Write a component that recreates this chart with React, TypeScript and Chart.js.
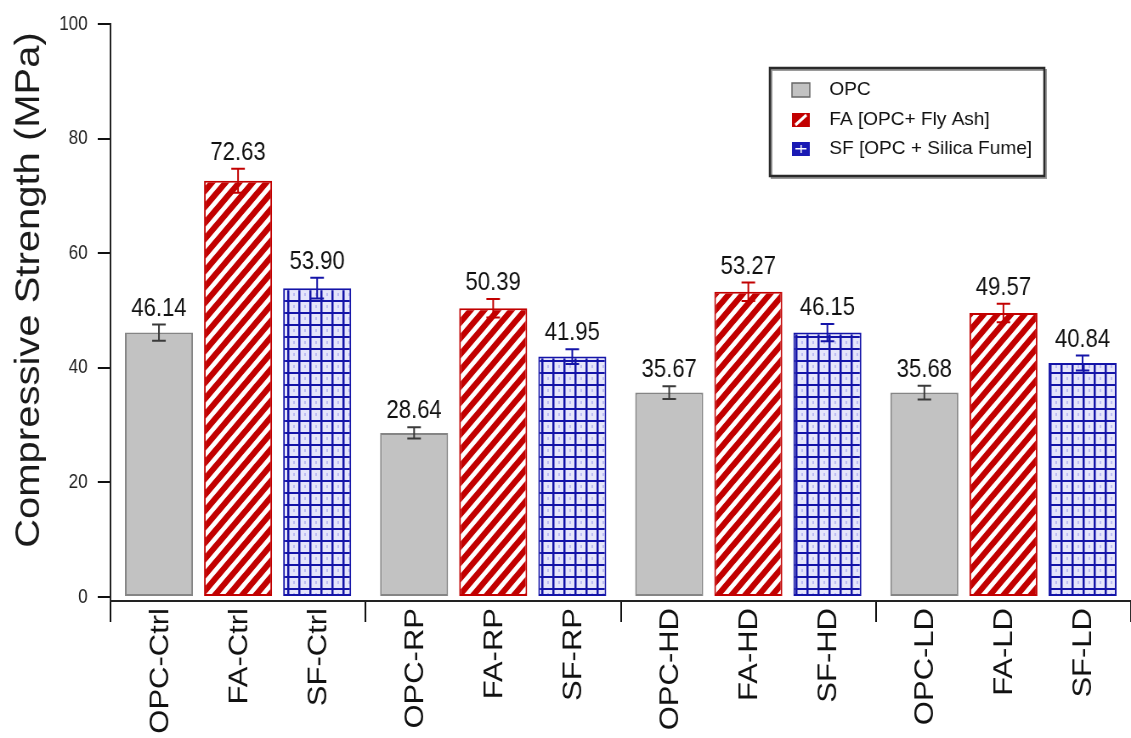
import React, { useEffect, useRef } from 'react';
import { Chart, registerables } from 'chart.js';

Chart.register(...registerables);

// ---------------- data ----------------
const groups = ['Ctrl', 'RP', 'HD', 'LD'];
const seriesPrefixes = ['OPC', 'FA', 'SF'];
const seriesNames = ['OPC', 'FA [OPC+ Fly Ash]', 'SF [OPC + Silica Fume]'];
const opcValues = [46.14, 28.64, 35.67, 35.68];
const faValues = [72.63, 50.39, 53.27, 49.57];
const sfValues = [53.9, 41.95, 46.15, 40.84];
const opcErrors = [1.4, 1.0, 1.1, 1.2];
const faErrors = [2.1, 1.6, 1.6, 1.6];
const sfErrors = [1.8, 1.3, 1.5, 1.3];
const yTicks = [0, 20, 40, 60, 80, 100];
const yTitle = 'Compressive Strength (MPa)';

// ---------------- layout ----------------
const W = 1131;
const H = 738;
const SX = 0.85; // horizontal squeeze of the reference picture
const IW = Math.round(W / SX);
const FONT = '"Liberation Sans", Arial, Helvetica, sans-serif';

function makeStripePattern(ctx: CanvasRenderingContext2D) {
  const c = document.createElement('canvas');
  c.width = 16;
  c.height = 16;
  const g = c.getContext('2d')!;
  g.fillStyle = '#ffffff';
  g.fillRect(0, 0, 16, 16);
  g.strokeStyle = '#c20000';
  g.lineWidth = 6.5;
  g.beginPath();
  g.moveTo(-4, 4);
  g.lineTo(4, -4);
  g.moveTo(-2, 18);
  g.lineTo(18, -2);
  g.moveTo(12, 20);
  g.lineTo(20, 12);
  g.stroke();
  return ctx.createPattern(c, 'repeat')!;
}

function makeGridPattern(ctx: CanvasRenderingContext2D) {
  const c = document.createElement('canvas');
  c.width = 13;
  c.height = 12;
  const g = c.getContext('2d')!;
  g.fillStyle = '#ffffff';
  g.fillRect(0, 0, 13, 12);
  g.fillStyle = 'rgba(110,110,235,0.18)';
  g.fillRect(2, 2, 11, 10);
  g.fillStyle = 'rgba(90,90,230,0.3)';
  g.fillRect(7, 5, 2, 3);
  g.fillStyle = '#1414a8';
  g.fillRect(0, 0, 2.5, 12);
  g.fillRect(0, 0, 13, 2);
  return ctx.createPattern(c, 'repeat')!;
}

const decorPlugin = {
  id: 'decor',
  afterDatasetsDraw(chart: any) {
    const ctx = chart.ctx as CanvasRenderingContext2D;
    const ys = chart.scales.y;
    chart.data.datasets.forEach((ds: any, di: number) => {
      const meta = chart.getDatasetMeta(di);
      meta.data.forEach((bar: any, i: number) => {
        const v = ds.data[i];
        const e = ds.errors[i];
        const x = bar.x;
        const yTop = ys.getPixelForValue(v + e);
        const yBot = ys.getPixelForValue(v - e);
        ctx.save();
        ctx.strokeStyle = ds.errorColor;
        ctx.lineWidth = 2;
        ctx.beginPath();
        ctx.moveTo(x, yTop);
        ctx.lineTo(x, yBot);
        ctx.moveTo(x - 8, yTop);
        ctx.lineTo(x + 8, yTop);
        ctx.moveTo(x - 8, yBot);
        ctx.lineTo(x + 8, yBot);
        ctx.stroke();

        ctx.fillStyle = '#111';
        ctx.font = `26px ${FONT}`;
        ctx.textAlign = 'center';
        ctx.textBaseline = 'alphabetic';
        ctx.fillText(v.toFixed(2), x, yTop - 9);

        ctx.translate(x + 2, chart.chartArea.bottom + 7);
        ctx.rotate(-Math.PI / 2);
        ctx.font = `31px ${FONT}`;
        ctx.textAlign = 'right';
        ctx.textBaseline = 'middle';
        ctx.fillText(ds.barLabels[i], 0, 0);
        ctx.restore();
      });
    });
  },
  afterDraw(chart: any) {
    const ctx = chart.ctx as CanvasRenderingContext2D;
    // y-axis title
    ctx.save();
    ctx.translate(35, 290);
    ctx.rotate(-Math.PI / 2);
    ctx.font = `40px ${FONT}`;
    ctx.fillStyle = '#1a1a1a';
    ctx.textAlign = 'center';
    ctx.textBaseline = 'middle';
    ctx.fillText(yTitle, 0, 0);
    ctx.restore();

    // legend
    const lx = 906;
    const ly = 68;
    const lw = 323;
    const lh = 108;
    ctx.save();
    ctx.fillStyle = '#ffffff';
    ctx.fillRect(lx, ly, lw, lh);
    ctx.strokeStyle = '#9a9a9a';
    ctx.lineWidth = 2;
    ctx.strokeRect(lx + 2, ly + 2, lw, lh);
    ctx.strokeStyle = '#2a2a2a';
    ctx.lineWidth = 2.5;
    ctx.strokeRect(lx, ly, lw, lh);
    const rows = [90, 120, 149];
    chart.data.datasets.forEach((ds: any, di: number) => {
      const ry = rows[di];
      const sx = 932;
      const sw = 21;
      const sh = 14;
      const sy = ry - sh / 2;
      if (di === 0) {
        ctx.fillStyle = '#c2c2c2';
        ctx.fillRect(sx, sy, sw, sh);
        ctx.strokeStyle = '#666';
        ctx.lineWidth = 1.5;
        ctx.strokeRect(sx, sy, sw, sh);
      } else if (di === 1) {
        ctx.fillStyle = '#c20000';
        ctx.fillRect(sx, sy, sw, sh);
        ctx.strokeStyle = '#ffffff';
        ctx.lineWidth = 3;
        ctx.beginPath();
        ctx.moveTo(sx + 4, sy + sh - 2);
        ctx.lineTo(sx + sw - 4, sy + 2);
        ctx.stroke();
      } else {
        ctx.fillStyle = '#1a1ab4';
        ctx.fillRect(sx, sy, sw, sh);
        ctx.fillStyle = '#ffffff';
        ctx.fillRect(sx + 4, sy + 6, sw - 8, 1.5);
        ctx.fillRect(sx + 10, sy + 3, 1.5, sh - 6);
      }
      ctx.save();
      ctx.translate(976, ry);
      ctx.scale(1.18, 1);
      ctx.font = `19px ${FONT}`;
      ctx.fillStyle = '#111';
      ctx.textAlign = 'left';
      ctx.textBaseline = 'middle';
      ctx.fillText(ds.label, 0, 0);
      ctx.restore();
    });
    ctx.restore();
  },
};

export default function App() {
  const canvasRef = useRef<HTMLCanvasElement | null>(null);

  useEffect(() => {
    document.body.style.margin = '0';
    const canvas = canvasRef.current!;
    const ctx = canvas.getContext('2d')!;
    const stripe = makeStripePattern(ctx);
    const grid = makeGridPattern(ctx);
    const valueSets = [opcValues, faValues, sfValues];
    const errorSets = [opcErrors, faErrors, sfErrors];
    const fills: any[] = ['#c2c2c2', stripe, grid];
    const borders = ['#858585', '#c20000', '#1414a8'];
    const errColors = ['#3a3a3a', '#c20000', '#1414a8'];

    const chart = new Chart(ctx, {
      type: 'bar',
      data: {
        labels: groups,
        datasets: seriesNames.map((name, si) => ({
          label: name,
          data: valueSets[si],
          errors: errorSets[si],
          errorColor: errColors[si],
          barLabels: groups.map((g) => `${seriesPrefixes[si]}-${g}`),
          backgroundColor: fills[si],
          borderColor: borders[si],
          borderWidth: 2,
          borderSkipped: false,
          categoryPercentage: 0.93,
          barPercentage: 0.86,
        })) as any,
      },
      options: {
        responsive: false,
        devicePixelRatio: 1,
        animation: false,
        events: [],
        layout: { padding: { top: 22, left: 0, right: 0, bottom: 0 } },
        plugins: {
          legend: { display: false },
          tooltip: { enabled: false },
          title: { display: false },
        },
        scales: {
          x: {
            type: 'category',
            offset: true,
            grid: {
              display: true,
              drawOnChartArea: false,
              drawTicks: true,
              tickLength: 21,
              color: '#111',
              lineWidth: 2,
              offset: true,
            },
            border: { display: true, color: '#222', width: 2 },
            ticks: { display: false },
            afterFit: (s: any) => {
              s.height = 137;
            },
          },
          y: {
            min: -0.7,
            max: 100,
            afterBuildTicks: (s: any) => {
              s.ticks = yTicks.map((v) => ({ value: v }));
            },
            grid: {
              drawOnChartArea: false,
              drawTicks: true,
              tickLength: 15,
              color: '#111',
              lineWidth: 2,
            },
            border: { display: true, color: '#222', width: 2 },
            ticks: {
              font: { size: 20, family: FONT },
              color: '#222',
              padding: 12,
            },
            afterFit: (s: any) => {
              s.width = 130;
            },
          },
        },
      } as any,
      plugins: [decorPlugin],
    });

    return () => {
      chart.destroy();
    };
  }, []);

  return (
    <canvas
      ref={canvasRef}
      width={IW}
      height={H}
      style={{ width: `${W}px`, height: `${H}px`, display: 'block' }}
    />
  );
}
